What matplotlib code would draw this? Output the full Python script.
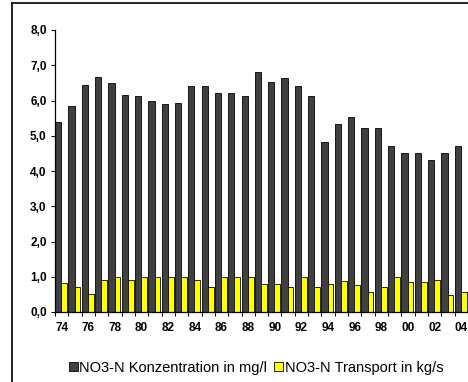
import numpy as np
from matplotlib import pyplot as plt
from matplotlib.lines import Line2D

plt.rcParams['font.family'] = ['Liberation Sans', 'DejaVu Sans']

years = ['74', '75', '76', '77', '78', '79', '80', '81', '82', '83',
         '84', '85', '86', '87', '88', '89', '90', '91', '92', '93',
         '94', '95', '96', '97', '98', '99', '00', '01', '02', '03', '04']
konzentration = [5.38, 5.84, 6.43, 6.66, 6.49, 6.17, 6.12, 5.98, 5.89, 5.92,
                 6.41, 6.41, 6.20, 6.20, 6.12, 6.82, 6.52, 6.63, 6.41, 6.12,
                 4.81, 5.32, 5.52, 5.21, 5.21, 4.72, 4.50, 4.50, 4.30, 4.50,
                 4.72]
transport = [0.81, 0.71, 0.51, 0.91, 1.0, 0.91, 1.0, 1.0, 1.0, 1.0,
             0.9, 0.7, 1.0, 1.0, 1.0, 0.8, 0.8, 0.7, 1.0, 0.7,
             0.8, 0.87, 0.76, 0.56, 0.7, 1.0, 0.84, 0.86, 0.9, 0.49,
             0.58]
label_konz = 'NO3-N Konzentration in mg/l'
label_trans = 'NO3-N Transport in kg/s'

fig = plt.figure(figsize=(4.68, 3.82), dpi=100)
ax = fig.add_axes([55/468, 70/382, 1 - 55/468, 282/382])

x = np.arange(len(years))
w1 = 0.47
w2 = 0.43
ax.bar(x - 0.5, konzentration, width=w1, align='edge', color='#404040',
       edgecolor='black', linewidth=0.6, label=label_konz)
ax.bar(x - 0.5 + w1, transport, width=w2, align='edge', color='#ffff00',
       edgecolor='black', linewidth=0.6, label=label_trans)

ax.set_xlim(-0.5, len(years) - 0.5)
ax.set_ylim(0, 8)
yt = np.arange(0, 9, 1)
ax.set_yticks(yt)
ax.set_yticklabels([('%.1f' % v).replace('.', ',') for v in yt])

# ticks at category borders, labels at every other year
ax.set_xticks(np.arange(len(years) + 1) - 0.5)
ax.set_xticklabels([])
ax.set_xticks(x[::2], minor=True)
ax.set_xticklabels(years[::2], minor=True)
ax.tick_params(axis='x', which='major', length=3, width=0.8, direction='out')
ax.tick_params(axis='x', which='minor', length=0, pad=7)
ax.tick_params(axis='y', length=3, width=0.8, direction='out', pad=3)
for t in ax.get_xticklabels(minor=True) + ax.get_yticklabels():
    t.set_fontsize(8.5)
    t.set_fontweight('bold')

ax.spines['top'].set_visible(False)
ax.spines['right'].set_visible(False)
ax.spines['left'].set_linewidth(0.9)
ax.spines['bottom'].set_linewidth(0.9)

fig.legend(loc='center', bbox_to_anchor=(0.547, 0.037), ncol=2, frameon=False,
           fontsize=10.5, handlelength=0.6, handleheight=0.6, handletextpad=0.1,
           columnspacing=0.5, borderpad=0)

# outer frame lines
fig.add_artist(Line2D([12/468, 12/468], [0, 1 - 3/382], color='black', linewidth=1.2))
fig.add_artist(Line2D([12/468, 1], [1 - 3/382, 1 - 3/382], color='black', linewidth=1.2))

plt.savefig('out.png', dpi=100)
